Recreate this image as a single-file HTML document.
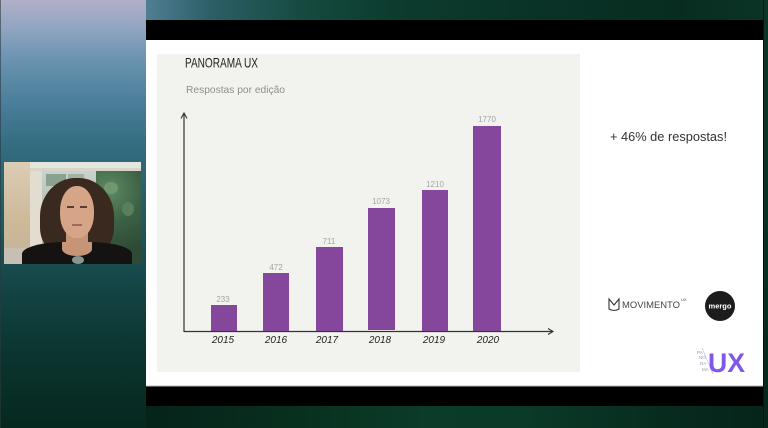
<!DOCTYPE html>
<html><head><meta charset="utf-8">
<style>
html,body{margin:0;padding:0;}
body{width:768px;height:428px;overflow:hidden;position:relative;background:#072a20;font-family:"Liberation Sans",sans-serif;}
.abs{position:absolute;}
#left{left:0;top:0;width:146px;height:428px;background:linear-gradient(to bottom,#b2afc7 0%,#93a6c2 6%,#6a93b0 14%,#4a7e9a 24%,#336d80 34%,#27606c 45%,#1b5056 58%,#124240 70%,#0b3530 82%,#06281e 100%);}
#top{left:146px;top:0;width:622px;height:20px;background:linear-gradient(to right,#507e94 0%,#2d6068 10%,#164a40 25%,#0c3c2e 40%,#0a3428 60%,#082c20 85%,#0b3426 100%);}
#bot{left:146px;top:406px;width:622px;height:22px;background:linear-gradient(to right,#06231a 0%,#08301f 25%,#0b3c29 45%,#0a3a28 60%,#072b1e 85%,#06241a 100%);}
#right{left:763px;top:0;width:5px;height:428px;background:linear-gradient(to bottom,#0c3526,#0a3022 50%,#06261b);border-left:1px solid #04140e;}
#edge{left:0;top:0;width:1px;height:428px;background:#2a3a40;opacity:.6;}
#cam{left:4px;top:162px;width:137px;height:102px;overflow:hidden;background:#cfbb9d;}
</style></head><body>
<div id="left" class="abs"></div>
<div id="top" class="abs"></div>
<div id="bot" class="abs"></div>
<div id="right" class="abs"></div>
<div id="edge" class="abs"></div>

<div id="cam" class="abs">
  <div class="abs" style="left:0;top:0;width:30px;height:102px;background:linear-gradient(to bottom,#dccdb5,#cdb898 60%,#c4b49c);"></div>
  <div class="abs" style="left:26px;top:0;width:111px;height:6px;background:#e4e6e0;"></div>
  <div class="abs" style="left:26px;top:6px;width:111px;height:3px;background:#d8d4c8;"></div>
  <div class="abs" style="left:26px;top:9px;width:12px;height:93px;background:#e2ddd0;"></div>
  <div class="abs" style="left:38px;top:9px;width:56px;height:70px;background:linear-gradient(to bottom,#c9d2cc,#b7c2b6 50%,#c2c4b8);"></div>
  <div class="abs" style="left:42px;top:12px;width:20px;height:12px;background:#8aa090;"></div>
  <div class="abs" style="left:64px;top:12px;width:16px;height:12px;background:#9fb4a4;"></div>
  <div class="abs" style="left:92px;top:9px;width:45px;height:93px;background:radial-gradient(circle at 30% 20%,#5f8a62,#3d6146 40%,#2c4a34 80%);"></div>
  <div class="abs" style="left:100px;top:20px;width:14px;height:12px;border-radius:50%;background:#6f9870;"></div>
  <div class="abs" style="left:118px;top:40px;width:12px;height:14px;border-radius:50%;background:#58805a;"></div>
  <div class="abs" style="left:0;top:86px;width:22px;height:16px;background:#c6bfb2;"></div>
  <!-- hair -->
  <div class="abs" style="left:36px;top:16px;width:74px;height:80px;border-radius:48% 48% 38% 38%;background:#3a291e;"></div>
  <!-- neck -->
  <div class="abs" style="left:62px;top:66px;width:22px;height:26px;background:#c89478;"></div>
  <!-- face -->
  <div class="abs" style="left:56px;top:24px;width:34px;height:52px;border-radius:48% 48% 46% 46%;background:#d6a588;"></div>
  <div class="abs" style="left:63px;top:44px;width:7px;height:2px;background:#5a3d32;"></div>
  <div class="abs" style="left:76px;top:44px;width:7px;height:2px;background:#5a3d32;"></div>
  <div class="abs" style="left:68px;top:62px;width:10px;height:2px;background:#a06a5a;"></div>
  <!-- top -->
  <div class="abs" style="left:18px;top:80px;width:110px;height:30px;border-radius:40% 40% 0 0;background:#151212;"></div>
  <div class="abs" style="left:58px;top:80px;width:30px;height:14px;border-radius:0 0 50% 50%;background:#c89478;"></div>
  <div class="abs" style="left:68px;top:94px;width:12px;height:8px;border-radius:50%;background:#8a9490;"></div>
</div>

<svg class="abs" style="left:0;top:0" width="768" height="428" viewBox="0 0 768 428" xmlns="http://www.w3.org/2000/svg">
  <rect x="146" y="20" width="617" height="386" fill="#000"/>
  <rect x="146" y="40" width="617" height="346" fill="#ffffff"/>
  <rect x="146" y="385.5" width="617" height="1" fill="#b8b8b8"/>
  <rect x="157" y="54" width="423" height="318" fill="#f2f2ee"/>

  <text x="185" y="67.5" font-size="14" fill="#222" textLength="73" lengthAdjust="spacingAndGlyphs" font-family="Liberation Sans, sans-serif">PANORAMA UX</text>
  <text x="186" y="93" font-size="10.5" fill="#8e8e8e" textLength="99" lengthAdjust="spacingAndGlyphs" font-family="Liberation Sans, sans-serif">Respostas por edição</text>

  <!-- axes -->
  <line x1="184" y1="113" x2="184" y2="332" stroke="#333" stroke-width="1.2"/>
  <polyline points="181,118.5 184,113 187,118.5" fill="none" stroke="#333" stroke-width="1.1"/>
  <line x1="184" y1="331.5" x2="553" y2="331.5" stroke="#333" stroke-width="1.2"/>
  <polyline points="548,328.5 553,331.5 548,334.5" fill="none" stroke="#333" stroke-width="1.1"/>

  <!-- bars -->
  <g fill="#84479b">
    <rect x="211" y="305" width="26" height="26"/>
    <rect x="263" y="273" width="26" height="58"/>
    <rect x="316" y="247" width="27" height="84"/>
    <rect x="368" y="208" width="27" height="122"/>
    <rect x="422" y="190" width="26" height="141"/>
    <rect x="473" y="126" width="28" height="205"/>
  </g>

  <g font-size="8" fill="#a4a4a8" text-anchor="middle" font-family="Liberation Sans, sans-serif">
    <text x="223" y="302">233</text>
    <text x="276" y="270">472</text>
    <text x="329" y="244">711</text>
    <text x="381" y="204">1073</text>
    <text x="435" y="187">1210</text>
    <text x="487" y="122">1770</text>
  </g>

  <g font-size="10" fill="#222" text-anchor="middle" font-style="italic" font-family="Liberation Sans, sans-serif">
    <text x="223" y="343">2015</text>
    <text x="276" y="343">2016</text>
    <text x="327" y="343">2017</text>
    <text x="380" y="343">2018</text>
    <text x="434" y="343">2019</text>
    <text x="488" y="343">2020</text>
  </g>

  <text x="610" y="141" font-size="12.5" fill="#333" textLength="117" lengthAdjust="spacingAndGlyphs" font-family="Liberation Sans, sans-serif">+ 46% de respostas!</text>

  <!-- movimento logo -->
  <g stroke="#333" stroke-width="1.1" fill="none">
    <path d="M609,299 L609,309 Q614,312 619,309 L619,299 L614,305 Z"/>
  </g>
  <text x="622" y="308" font-size="9.2" fill="#444" textLength="58" lengthAdjust="spacingAndGlyphs" font-family="Liberation Sans, sans-serif">MOVIMENTO</text>
  <text x="681" y="301" font-size="4" fill="#444" font-family="Liberation Sans, sans-serif">UX</text>

  <!-- mergo -->
  <circle cx="720" cy="306" r="15" fill="#1c1c1c"/>
  <text x="720" y="308.5" font-size="7.5" font-weight="bold" fill="#fff" text-anchor="middle" font-family="Liberation Sans, sans-serif">mergo</text>

  <!-- panorama ux -->
  <line x1="702" y1="348" x2="713" y2="374" stroke="#c8c8d8" stroke-width="0.8"/>
  <g font-size="4.5" fill="#9a9ab0" font-family="Liberation Sans, sans-serif">
    <text x="697" y="354">PA</text>
    <text x="699" y="359">NO</text>
    <text x="700" y="365">RA</text>
    <text x="702" y="371">MA</text>
  </g>
  <text x="708" y="372" font-size="27" font-weight="bold" fill="#7f57ea" textLength="37" lengthAdjust="spacingAndGlyphs" font-family="Liberation Sans, sans-serif">UX</text>
</svg>
</body></html>
